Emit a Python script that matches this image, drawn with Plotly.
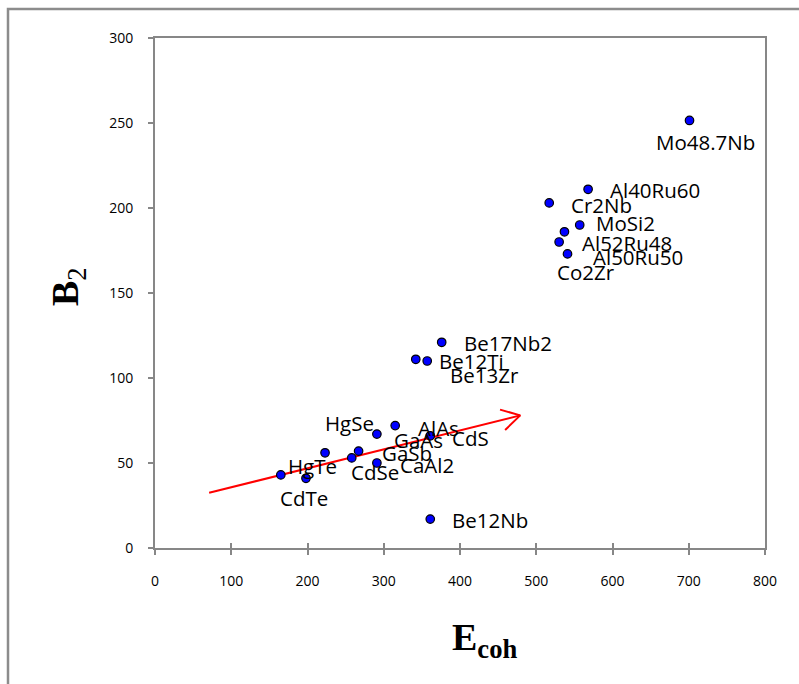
import math
import plotly.graph_objects as go

# ---- data ----
names = ["Mo48.7Nb", "Al40Ru60", "Cr2Nb", "MoSi2", "Co2Zr", "Al52Ru48", "Al50Ru50",
         "Be17Nb2", "Be12Ti", "Be13Zr", "HgSe", "AlAs", "CdS", "GaAs", "GaSb",
         "CdSe", "CaAl2", "HgTe", "CdTe", "Be12Nb"]
e_coh = [701, 568, 517, 557, 537, 530, 541,
         376, 342, 357, 291, 315, 361, 223, 267,
         258, 291, 165, 198, 361]
b2 = [251.5, 211, 203, 190, 186, 180, 173,
      121, 111, 110, 67, 72, 66, 56, 57,
      53, 50, 43, 41, 17]
# label placement (pixel offsets from the point: dx, dy down-positive, anchor)
label_dx = [16, 20, 20, 14, -9, 21, 23, 20, 21, 21, -1, 21, 20, 67, 21, 23, 21, 5, -2, 20]
label_dy = [22, 1, 2, -2, 40, 1, 3, 1, 2, 14, -11, 2, 2, -13, 2, 14, 2, -9, 20, 1]
label_anchor = ["center", "left", "left", "left", "left", "left", "left",
                "left", "left", "left", "right", "left", "left", "left", "left",
                "center", "left", "left", "center", "left"]

arrow_x = [71, 479]
arrow_y = [32.5, 78]

x_ticks = [0, 100, 200, 300, 400, 500, 600, 700, 800]
y_ticks = [0, 50, 100, 150, 200, 250, 300]

W, H = 799, 684
ML, MR, MT, MB = 155, 34, 38, 136
PW, PH = W - ML - MR, H - MT - MB
XR, YR = [0, 800], [0, 300]
sx = PW / (XR[1] - XR[0])
sy = PH / (YR[1] - YR[0])

fig = go.Figure()

# arrow shaft
fig.add_trace(go.Scatter(x=arrow_x, y=arrow_y, mode="lines",
                         line=dict(color="#ff0000", width=2), hoverinfo="skip",
                         showlegend=False))
# arrow head (open V), built in pixel space from the tip
dxp = (arrow_x[1] - arrow_x[0]) * sx
dyp = (arrow_y[1] - arrow_y[0]) * sy
ang = math.atan2(dyp, dxp)
hx, hy = [], []
for s in (1, -1):
    a = ang + math.pi + s * math.radians(30)
    hx.append(arrow_x[1] + 21 * math.cos(a) / sx)
    hy.append(arrow_y[1] + 21 * math.sin(a) / sy)
fig.add_trace(go.Scatter(x=[hx[0], arrow_x[1], hx[1]], y=[hy[0], arrow_y[1], hy[1]],
                         mode="lines", line=dict(color="#ff0000", width=2),
                         hoverinfo="skip", showlegend=False))

fig.add_trace(go.Scatter(x=e_coh, y=b2, mode="markers",
                         marker=dict(size=8.5, color="#0000ff",
                                     line=dict(color="#000000", width=1.2)),
                         showlegend=False))

for n, xv, yv, dx, dy, anc in zip(names, e_coh, b2, label_dx, label_dy, label_anchor):
    fig.add_annotation(x=xv, y=yv, xref="x", yref="y", text=n, showarrow=False,
                       xanchor=anc, yanchor="middle", xshift=dx, yshift=-dy,
                       font=dict(family="Open Sans", size=20.5, color="#000000"))

axis_common = dict(showline=True, linecolor="#878787", linewidth=2, mirror=True,
                   showgrid=False, zeroline=False, ticks="outside", ticklen=5,
                   tickwidth=1.5, tickcolor="#878787",
                   tickfont=dict(family="Open Sans", size=14, color="#000000"))

fig.update_layout(
    width=W, height=H,
    margin=dict(l=ML, r=MR, t=MT, b=MB),
    paper_bgcolor="white", plot_bgcolor="white",
    xaxis=dict(range=XR, tickvals=x_ticks, ticklabelstandoff=14, **axis_common),
    yaxis=dict(range=YR, tickvals=y_ticks, ticklabelstandoff=12, **axis_common),
    xaxis2=dict(range=XR, overlaying="x", tickvals=x_ticks, ticks="inside", ticklen=5,
                tickwidth=1.5, tickcolor="#878787", showticklabels=False,
                showline=False, showgrid=False, zeroline=False, anchor="y"),
    shapes=[dict(type="rect", xref="paper", yref="paper",
                 x0=(8 - ML) / PW, x1=(W + 20 - ML) / PW,
                 y0=-(H + 20 - MT - PH) / PH, y1=1 + (MT - 9) / PH,
                 line=dict(color="#8c8c8c", width=2.5), layer="below")],
)
# invisible trace to activate xaxis2 (for crossing x ticks)
fig.add_trace(go.Scatter(x=[None], y=[None], xaxis="x2", yaxis="y",
                         showlegend=False, hoverinfo="skip"))

# axis titles
fig.add_annotation(xref="paper", yref="paper", x=(484 - ML) / PW, y=1 - (640 - MT) / PH,
                   text="<b>E</b><sub><b>coh</b></sub>", showarrow=False,
                   xanchor="center", yanchor="middle",
                   font=dict(family="Liberation Serif", size=38, color="#000000"))
fig.add_annotation(xref="paper", yref="paper", x=(68 - ML) / PW, y=1 - (287 - MT) / PH,
                   text="<b>B</b><sub>2</sub>", showarrow=False, textangle=-90,
                   xanchor="center", yanchor="middle",
                   font=dict(family="Liberation Serif", size=38, color="#000000"))

fig.write_html("out.html")
